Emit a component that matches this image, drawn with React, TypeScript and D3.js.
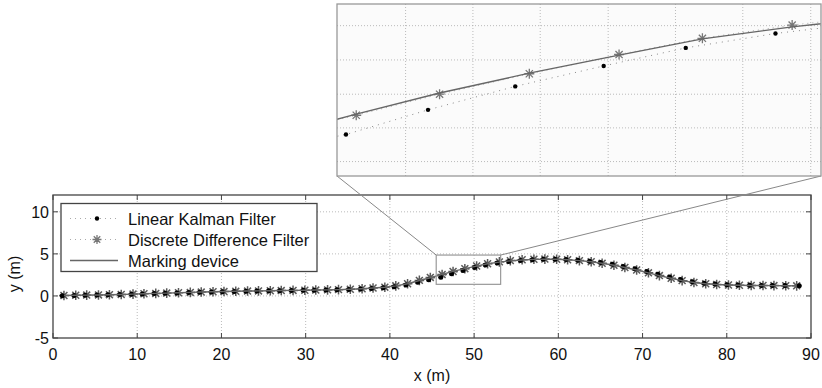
import { useEffect, useRef } from 'react'
import * as d3 from 'd3'

// sample positions along x (m)
const sampleX = [1.3, 2.7, 4.0, 5.4, 6.7, 8.1, 9.5, 10.8, 12.2, 13.5, 14.9, 16.3, 17.6, 19.0, 20.3, 21.7, 23.1, 24.4, 25.8, 27.1, 28.5, 29.9, 31.2, 32.6, 33.9, 35.3, 36.7, 38.0, 39.4, 40.7, 42.1, 43.5, 44.8, 46.2, 47.5, 48.9, 50.3, 51.6, 53.0, 54.3, 55.7, 57.1, 58.4, 59.8, 61.1, 62.5, 63.9, 65.2, 66.6, 67.9, 69.3, 70.7, 72.0, 73.4, 74.7, 76.1, 77.5, 78.8, 80.2, 81.5, 82.9, 84.3, 85.6, 87.0, 88.3]
const ddfY = [0.05, 0.08, 0.10, 0.12, 0.15, 0.18, 0.22, 0.26, 0.30, 0.34, 0.38, 0.42, 0.46, 0.50, 0.52, 0.55, 0.58, 0.60, 0.62, 0.64, 0.66, 0.68, 0.70, 0.72, 0.75, 0.80, 0.86, 0.94, 1.04, 1.20, 1.45, 1.85, 2.20, 2.55, 2.90, 3.24, 3.56, 3.83, 4.05, 4.20, 4.30, 4.36, 4.38, 4.36, 4.30, 4.20, 4.06, 3.88, 3.65, 3.38, 3.08, 2.75, 2.42, 2.10, 1.82, 1.60, 1.45, 1.36, 1.30, 1.27, 1.25, 1.24, 1.23, 1.22, 1.20]
const kalmanX = [1.1, 2.5, 3.8, 5.2, 6.5, 7.9, 9.3, 10.6, 12.0, 13.3, 14.7, 16.1, 17.4, 18.8, 20.1, 21.5, 22.9, 24.2, 25.6, 26.9, 28.3, 29.7, 31.0, 32.4, 33.7, 35.1, 36.5, 37.8, 39.2, 40.5, 41.9, 43.3, 44.6, 46.04, 47.32, 48.68, 50.06, 51.34, 52.74, 54.1, 55.5, 56.9, 58.2, 59.6, 60.9, 62.3, 63.7, 65.0, 66.4, 67.7, 69.1, 70.5, 71.8, 73.2, 74.5, 75.9, 77.3, 78.6, 80.0, 81.3, 82.7, 84.1, 85.4, 86.9, 88.6]
const kalmanY = [0.03, 0.06, 0.09, 0.11, 0.14, 0.17, 0.20, 0.24, 0.28, 0.32, 0.36, 0.40, 0.44, 0.48, 0.51, 0.54, 0.57, 0.59, 0.61, 0.63, 0.65, 0.67, 0.69, 0.71, 0.73, 0.77, 0.82, 0.89, 0.97, 1.10, 1.30, 1.62, 1.92, 2.23, 2.64, 3.03, 3.37, 3.67, 3.91, 4.08, 4.21, 4.30, 4.35, 4.36, 4.33, 4.25, 4.13, 3.97, 3.76, 3.51, 3.22, 2.90, 2.57, 2.24, 1.95, 1.70, 1.52, 1.41, 1.33, 1.29, 1.26, 1.25, 1.24, 1.23, 1.22]
const markingY = [0.05, 0.08, 0.10, 0.12, 0.15, 0.18, 0.22, 0.26, 0.30, 0.34, 0.38, 0.42, 0.46, 0.50, 0.52, 0.55, 0.58, 0.60, 0.62, 0.64, 0.66, 0.68, 0.70, 0.72, 0.75, 0.80, 0.86, 0.94, 1.04, 1.20, 1.45, 1.83, 2.16, 2.57, 2.92, 3.25, 3.55, 3.82, 4.02, 4.17, 4.28, 4.35, 4.37, 4.36, 4.30, 4.20, 4.06, 3.88, 3.65, 3.38, 3.08, 2.75, 2.42, 2.10, 1.82, 1.60, 1.45, 1.36, 1.30, 1.27, 1.25, 1.24, 1.23, 1.22, 1.20]

const xTicks = [0, 10, 20, 30, 40, 50, 60, 70, 80, 90]
const yTicks = [-5, 0, 5, 10]
const zoomBoxX = [45.5, 53.15]
const zoomBoxY = [1.38, 4.86]
const insetDomainX = [45.9, 53.45]
const insetDomainY = [1.54, 4.4]
const insetGridX = [46.97, 48.02, 49.07, 50.13, 51.18, 52.23, 53.29]
const insetGridY = [1.78, 2.34, 2.9, 3.47, 4.04]
const legendLabels = ['Linear Kalman Filter', 'Discrete Difference Filter', 'Marking device']

const FONT = 'Liberation Sans, Arial, sans-serif'

const starPath = (r: number) => {
  const d = r * 0.72
  return `M${-r},0H${r}M0,${-r}V${r}M${-d},${-d}L${d},${d}M${-d},${d}L${d},${-d}`
}

export default function App() {
  const ref = useRef<SVGSVGElement>(null)

  useEffect(() => {
    const svg = d3.select(ref.current)
    svg.selectAll('*').remove()

    const x = d3.scaleLinear().domain([0, 90]).range([53, 811])
    const y = d3.scaleLinear().domain([-5, 12]).range([338, 195])

    const ddf = sampleX.map((v, i) => [v, ddfY[i]] as [number, number])
    const lkf = kalmanX.map((v, i) => [v, kalmanY[i]] as [number, number])
    const mark = sampleX.map((v, i) => [v, markingY[i]] as [number, number])

    const defs = svg.append('defs')
    defs.append('clipPath').attr('id', 'mainClip')
      .append('rect').attr('x', 53).attr('y', 195).attr('width', 758).attr('height', 143)

    // main axes
    const main = svg.append('g')
    main.append('rect').attr('x', 53).attr('y', 195).attr('width', 758).attr('height', 143)
      .attr('fill', '#fff')

    main.selectAll('line.gx').data(xTicks.slice(1, -1)).enter().append('line')
      .attr('x1', d => x(d)).attr('x2', d => x(d)).attr('y1', 195).attr('y2', 338)
      .attr('stroke', '#aaa').attr('stroke-width', 0.8).attr('stroke-dasharray', '1,2')
    main.selectAll('line.gy').data(yTicks.slice(1)).enter().append('line')
      .attr('y1', d => y(d)).attr('y2', d => y(d)).attr('x1', 53).attr('x2', 811)
      .attr('stroke', '#aaa').attr('stroke-width', 0.8).attr('stroke-dasharray', '1,2')

    // inner tick marks on all four sides
    xTicks.forEach(t => {
      main.append('line').attr('x1', x(t)).attr('x2', x(t)).attr('y1', 338).attr('y2', 333).attr('stroke', '#444')
      main.append('line').attr('x1', x(t)).attr('x2', x(t)).attr('y1', 195).attr('y2', 200).attr('stroke', '#444')
    })
    yTicks.forEach(t => {
      main.append('line').attr('y1', y(t)).attr('y2', y(t)).attr('x1', 53).attr('x2', 58).attr('stroke', '#444')
      main.append('line').attr('y1', y(t)).attr('y2', y(t)).attr('x1', 811).attr('x2', 806).attr('stroke', '#444')
    })

    main.selectAll('text.xt').data(xTicks).enter().append('text')
      .attr('x', d => x(d)).attr('y', 360).attr('text-anchor', 'middle')
      .attr('font-family', FONT).attr('font-size', 16).attr('fill', '#111').text(d => d)
    main.selectAll('text.yt').data(yTicks).enter().append('text')
      .attr('x', 49).attr('y', d => y(d) + 6).attr('text-anchor', 'end')
      .attr('font-family', FONT).attr('font-size', 16).attr('fill', '#111').text(d => d)

    main.append('text').attr('x', 432).attr('y', 381).attr('text-anchor', 'middle')
      .attr('font-family', FONT).attr('font-size', 16).attr('fill', '#111').text('x (m)')
    main.append('text').attr('transform', 'translate(20,274) rotate(-90)').attr('text-anchor', 'middle')
      .attr('font-family', FONT).attr('font-size', 16).attr('fill', '#111').text('y (m)')

    const drawSeries = (g: d3.Selection<SVGGElement, unknown, null, undefined>,
      sx: d3.ScaleLinear<number, number>, sy: d3.ScaleLinear<number, number>,
      r: number, dotR: number, starColor: string, starWidth: number) => {
      const line = d3.line<[number, number]>().x(d => sx(d[0])).y(d => sy(d[1]))
      g.append('path').attr('d', line(ddf)).attr('fill', 'none')
        .attr('stroke', '#aaa').attr('stroke-width', 1).attr('stroke-dasharray', '1,4')
      g.append('path').attr('d', line(lkf)).attr('fill', 'none')
        .attr('stroke', '#888').attr('stroke-width', 1).attr('stroke-dasharray', '1,5')
      g.selectAll('path.star').data(ddf).enter().append('path')
        .attr('transform', d => `translate(${sx(d[0])},${sy(d[1])})`)
        .attr('d', starPath(r)).attr('stroke', starColor).attr('stroke-width', starWidth).attr('fill', 'none')
      g.selectAll('circle.dot').data(lkf).enter().append('circle')
        .attr('cx', d => sx(d[0])).attr('cy', d => sy(d[1])).attr('r', dotR).attr('fill', '#000')
      g.append('path').attr('d', line(mark)).attr('fill', 'none')
        .attr('stroke', '#666').attr('stroke-width', 1.4)
    }

    const plot = main.append('g').attr('clip-path', 'url(#mainClip)')
    drawSeries(plot, x, y, 4.8, 2.5, '#5a5a5a', 1.5)

    // zoom box
    main.append('rect')
      .attr('x', x(zoomBoxX[0])).attr('y', y(zoomBoxY[1]))
      .attr('width', x(zoomBoxX[1]) - x(zoomBoxX[0])).attr('height', y(zoomBoxY[0]) - y(zoomBoxY[1]))
      .attr('fill', 'none').attr('stroke', '#999').attr('stroke-width', 1.2)

    main.append('rect').attr('x', 53).attr('y', 195).attr('width', 758).attr('height', 143)
      .attr('fill', 'none').attr('stroke', '#444').attr('stroke-width', 1.3)

    // legend
    const leg = svg.append('g')
    leg.append('rect').attr('x', 61).attr('y', 203.5).attr('width', 256).attr('height', 68)
      .attr('fill', '#fff').attr('stroke', '#444').attr('stroke-width', 1.3)
    legendLabels.forEach((label, i) => {
      const ry = 218.5 + i * 21
      const l = leg.append('line').attr('x1', 70).attr('x2', 118).attr('y1', ry).attr('y2', ry)
      if (i < 2) l.attr('stroke', '#aaa').attr('stroke-dasharray', '1,4')
      else l.attr('stroke', '#666').attr('stroke-width', 1.4)
      if (i === 0) leg.append('circle').attr('cx', 97).attr('cy', ry).attr('r', 2.2).attr('fill', '#000')
      if (i === 1) leg.append('path').attr('transform', `translate(97,${ry})`).attr('d', starPath(4.5))
        .attr('stroke', '#777').attr('stroke-width', 1.3).attr('fill', 'none')
      leg.append('text').attr('x', 128).attr('y', ry + 6)
        .attr('font-family', FONT).attr('font-size', 16.5).attr('fill', '#111').text(label)
    })

    // inset
    const ix = d3.scaleLinear().domain(insetDomainX).range([337, 821])
    const iy = d3.scaleLinear().domain(insetDomainY).range([176, 4])

    svg.append('line').attr('x1', x(zoomBoxX[0])).attr('y1', y(zoomBoxY[1])).attr('x2', 337).attr('y2', 176)
      .attr('stroke', '#888').attr('stroke-width', 1)
    svg.append('line').attr('x1', x(zoomBoxX[1])).attr('y1', y(zoomBoxY[1])).attr('x2', 821).attr('y2', 176)
      .attr('stroke', '#888').attr('stroke-width', 1)

    defs.append('clipPath').attr('id', 'insetClip')
      .append('rect').attr('x', 337).attr('y', 4).attr('width', 484).attr('height', 172)

    const inset = svg.append('g')
    inset.append('rect').attr('x', 337).attr('y', 4).attr('width', 484).attr('height', 172).attr('fill', '#fbfbfb')
    inset.selectAll('line.igx').data(insetGridX).enter().append('line')
      .attr('x1', d => ix(d)).attr('x2', d => ix(d)).attr('y1', 4).attr('y2', 176)
      .attr('stroke', '#aaa').attr('stroke-width', 0.8).attr('stroke-dasharray', '1,2')
    inset.selectAll('line.igy').data(insetGridY).enter().append('line')
      .attr('y1', d => iy(d)).attr('y2', d => iy(d)).attr('x1', 337).attr('x2', 821)
      .attr('stroke', '#aaa').attr('stroke-width', 0.8).attr('stroke-dasharray', '1,2')
    const iplot = inset.append('g').attr('clip-path', 'url(#insetClip)')
    drawSeries(iplot, ix, iy, 5, 2.2, '#777', 1.3)
    inset.append('rect').attr('x', 337).attr('y', 4).attr('width', 484).attr('height', 172)
      .attr('fill', 'none').attr('stroke', '#999').attr('stroke-width', 1.3)
  }, [])

  return (
    <svg ref={ref} width={822} height={388}
      style={{ position: 'absolute', left: 0, top: 0, background: '#fff' }} />
  )
}
